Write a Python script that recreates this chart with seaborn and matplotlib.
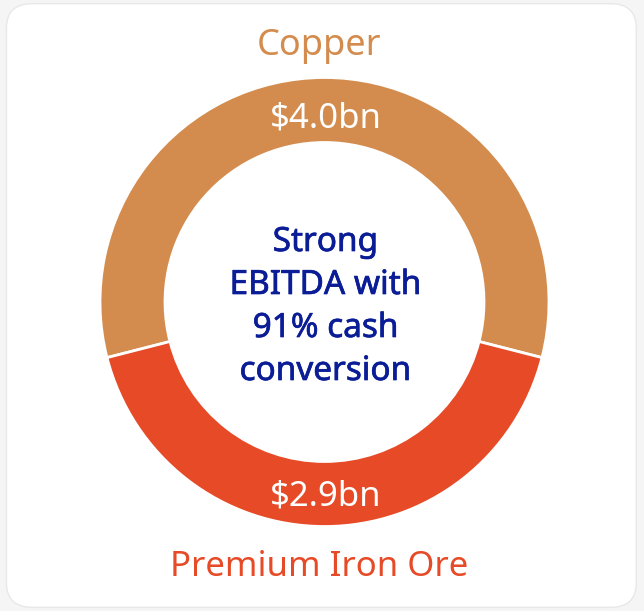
import matplotlib
matplotlib.use('Agg')
import matplotlib.pyplot as plt
import matplotlib.patheffects as pe
from matplotlib.patches import FancyBboxPatch
import seaborn as sns

# data
segments = ['Copper', 'Premium Iron Ore']
ebitda_bn = [4.0, 2.9]
value_labels = ['$4.0bn', '$2.9bn']
centre_text = 'Strong\nEBITDA with\n91% cash\nconversion'

sns.set_theme(style='white')
plt.rcParams['font.family'] = ['Noto Sans', 'DejaVu Sans']

colors = ['#D38C4D', '#E64A26']
navy = '#0B1D96'

fig = plt.figure(figsize=(6.44, 6.11), dpi=100)
fig.patch.set_facecolor('#F5F5F5')

# rounded card behind the chart
card = FancyBboxPatch((0.010, 0.006), 0.978, 0.988,
                      boxstyle='round,pad=0,rounding_size=0.04',
                      transform=fig.transFigure, facecolor='white',
                      edgecolor='#E8E8E8', linewidth=1.0, zorder=-1)
fig.patches.append(card)

ax = fig.add_axes([0, 0, 1, 1], zorder=1)
ax.patch.set_alpha(0)

cx, cy = 324.5, 611 - 302
r_out, ring = 224.5, 65
share = ebitda_bn[0] / sum(ebitda_bn)
start = 90 - 360 * share / 2

ax.pie(ebitda_bn, colors=colors, startangle=start, counterclock=True,
       center=(cx, cy), radius=r_out, frame=True,
       wedgeprops=dict(width=ring, edgecolor='white', linewidth=2))
ax.set_xlim(0, 644)
ax.set_ylim(0, 611)
ax.set_aspect('equal')
ax.axis('off')

ax.text(cx + 1, cy + 183, value_labels[0], ha='center', va='center',
        color='white', fontsize=25)
ax.text(cx + 1, cy - 195, value_labels[1], ha='center', va='center',
        color='white', fontsize=25)

ax.text(cx - 5, cy + 256, segments[0], ha='center', va='center',
        color=colors[0], fontsize=26)
ax.text(cx - 5, cy - 265, segments[1], ha='center', va='center',
        color=colors[1], fontsize=25)

ax.text(cx + 1, cy - 5, centre_text, ha='center', va='center', color=navy,
        fontsize=24, linespacing=1.4,
        path_effects=[pe.withStroke(linewidth=0.5, foreground=navy)])

fig.savefig('out.png', dpi=100, facecolor=fig.get_facecolor())
